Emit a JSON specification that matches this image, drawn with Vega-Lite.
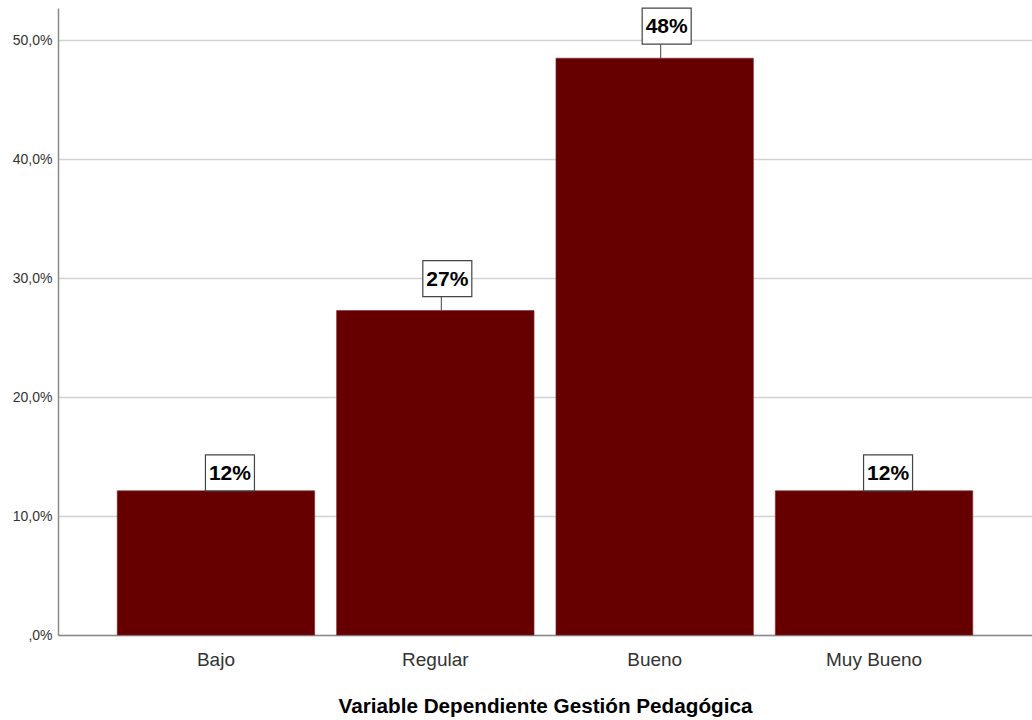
{
  "$schema": "https://vega.github.io/schema/vega-lite/v6.json",
  "width": 974,
  "height": 627,
  "autosize": {"type": "none"},
  "padding": {"left": 58, "top": 8, "right": 0, "bottom": 85},
  "background": "white",
  "config": {
    "view": {"stroke": null},
    "font": "Liberation Sans"
  },
  "data": {
    "values": [
      {"nivel": "Bajo", "pct": 0.1212},
      {"nivel": "Regular", "pct": 0.2727},
      {"nivel": "Bueno", "pct": 0.4848},
      {"nivel": "Muy Bueno", "pct": 0.1212}
    ]
  },
  "encoding": {
    "x": {
      "field": "nivel",
      "type": "nominal",
      "sort": ["Bajo", "Regular", "Bueno", "Muy Bueno"],
      "scale": {"paddingInner": 0.1, "paddingOuter": 0.27},
      "axis": {
        "title": "Variable Dependiente Gestión Pedagógica",
        "titleFont": "Liberation Sans",
        "titleFontSize": 20.7,
        "titleFontWeight": "bold",
        "titleColor": "#000000",
        "titlePadding": 27,
        "labelAngle": 0,
        "labelFontSize": 19,
        "labelColor": "#333333",
        "labelPadding": 15,
        "ticks": false,
        "domainColor": "#8a8a8a",
        "domainWidth": 1.5,
        "grid": false
      }
    },
    "y": {
      "field": "pct",
      "type": "quantitative",
      "scale": {"domain": [0, 0.527], "nice": false, "zero": true},
      "axis": {
        "title": null,
        "values": [0, 0.1, 0.2, 0.3, 0.4, 0.5],
        "labelExpr": "datum.value == 0 ? ',0%' : replace(format(datum.value, '.1%'), '.', ',')",
        "labelFontSize": 14,
        "labelColor": "#333333",
        "labelPadding": 6,
        "ticks": false,
        "grid": true,
        "gridColor": "#d2d2d2",
        "gridWidth": 1.5,
        "domainColor": "#8a8a8a",
        "domainWidth": 1.5
      }
    }
  },
  "layer": [
    {
      "mark": {"type": "bar", "color": "#660000", "stroke": "#7a2a2a", "strokeWidth": 0.6}
    },
    {
      "mark": {"type": "rule", "color": "#444444", "strokeWidth": 1, "xOffset": 6, "y2Offset": -14},
      "encoding": {"y2": {"field": "pct"}}
    },
    {
      "transform": [{"filter": "datum.pct >= 0.2"}],
      "mark": {
        "type": "point",
        "shape": "M-1,-0.735L1,-0.735L1,0.735L-1,0.735Z",
        "size": 2401,
        "filled": true,
        "fill": "white",
        "stroke": "#444444",
        "strokeWidth": 1.2,
        "opacity": 1,
        "xOffset": 12,
        "yOffset": -32
      }
    },
    {
      "transform": [{"filter": "datum.pct < 0.2"}],
      "mark": {
        "type": "point",
        "shape": "M-1,-0.735L1,-0.735L1,0.735L-1,0.735Z",
        "size": 2401,
        "filled": true,
        "fill": "white",
        "stroke": "#444444",
        "strokeWidth": 1.2,
        "opacity": 1,
        "xOffset": 14,
        "yOffset": -18
      }
    },
    {
      "transform": [{"filter": "datum.pct >= 0.2"}],
      "mark": {
        "type": "text",
        "font": "Liberation Sans",
        "fontSize": 21,
        "fontWeight": "bold",
        "color": "#000000",
        "align": "center",
        "baseline": "middle",
        "xOffset": 12,
        "yOffset": -31
      },
      "encoding": {"text": {"field": "pct", "type": "quantitative", "format": ".0%"}}
    },
    {
      "transform": [{"filter": "datum.pct < 0.2"}],
      "mark": {
        "type": "text",
        "font": "Liberation Sans",
        "fontSize": 21,
        "fontWeight": "bold",
        "color": "#000000",
        "align": "center",
        "baseline": "middle",
        "xOffset": 14,
        "yOffset": -17
      },
      "encoding": {"text": {"field": "pct", "type": "quantitative", "format": ".0%"}}
    }
  ]
}
